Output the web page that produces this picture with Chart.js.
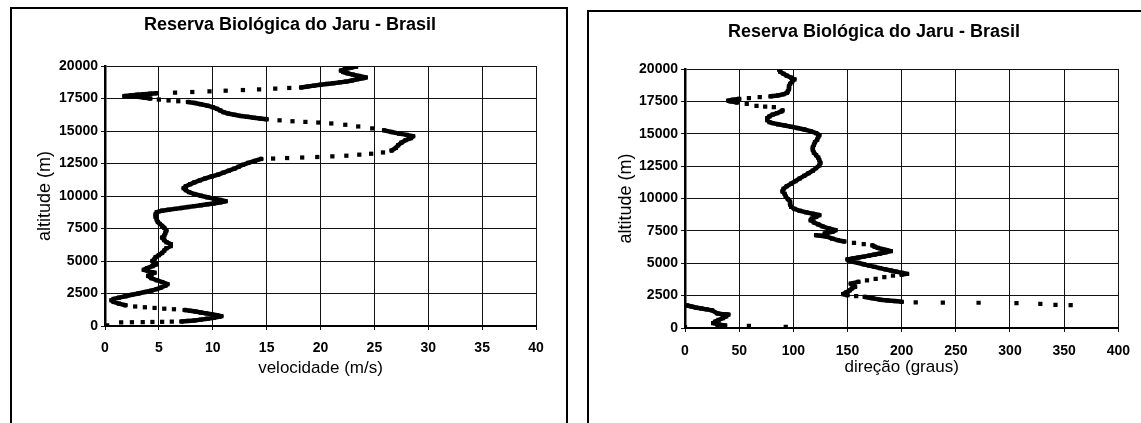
<!DOCTYPE html>
<html><head><meta charset="utf-8">
<script src="https://cdn.jsdelivr.net/npm/chart.js@4.4.1/dist/chart.umd.min.js"></script>
<style>
html,body{margin:0;padding:0;background:#fff;width:1141px;height:423px;overflow:hidden;}
.frame{position:absolute;border:2px solid #000;box-sizing:border-box;}
canvas{position:absolute;}
</style></head><body>
<div class="frame" style="left:10px;top:7px;width:558px;height:480px"></div>
<div class="frame" style="left:587px;top:10px;width:600px;height:480px"></div>
<canvas id="cL" width="554" height="414" style="left:12px;top:9px"></canvas>
<canvas id="cR" width="552" height="411" style="left:589px;top:12px"></canvas>
<script>
const chartTitle = 'Reserva Biológica do Jaru - Brasil';
const yTitle = 'altitude (m)';
const speedTitle = 'velocidade (m/s)';
const dirTitle = 'direção (graus)';
const altitudeTicks = [0, 2500, 5000, 7500, 10000, 12500, 15000, 17500, 20000];
const speedTicks = [0, 5, 10, 15, 20, 25, 30, 35, 40];
const directionTicks = [0, 50, 100, 150, 200, 250, 300, 350, 400];

// Wind speed profile (m/s) and altitude (m)
const speedAlt = [50,280,290,300,310,320,335,350,390,430,490,560,630,700,760,830,900,970,1040,1110,1170,1230,1290,1330,1390,1440,1500,1600,1720,1850,1980,2080,2180,2290,2400,2500,2610,2720,2840,2960,3100,3220,3380,3520,3680,3850,3980,4100,4220,4320,4450,4600,4750,4880,5000,5150,5300,5450,5620,5800,5980,6150,6300,6450,6600,6800,6950,7150,7350,7550,7700,7850,8000,8200,8400,8600,8750,8870,8940,9010,9080,9150,9220,9290,9360,9430,9510,9600,9700,9800,9900,10020,10150,10300,10450,10600,10750,10900,11050,11200,11350,11500,11650,11800,11950,12100,12250,12400,12550,12700,12850,12880,12920,12960,13000,13050,13100,13180,13250,13350,13500,13700,13900,14100,14300,14450,14600,14700,14800,14920,15050,15200,15350,15480,15580,15650,15700,15750,15820,15900,15960,16020,16090,16160,16250,16350,16450,16580,16700,16830,16950,17060,17160,17230,17290,17350,17420,17500,17570,17630,17670,17690,17740,17790,17830,17870,17910,17950,18000,18050,18100,18150,18200,18260,18310,18350,18420,18490,18560,18620,18680,18740,18800,18880,18980,19060,19120,19230,19340,19440,19540,19650,19770,19870,19950];
const speedVal = [0.2,1.5,2.5,3.5,4.4,5.3,6.2,7.1,7.7,8.3,8.9,9.5,10.1,10.6,10.8,10.4,9.9,9.4,8.9,8.4,7.9,7.4,6.4,5.5,4.6,3.7,2.8,1.9,1.3,0.8,0.6,0.8,1.3,1.9,2.5,3.1,3.7,4.3,4.8,5.2,5.6,5.8,5.3,4.8,4.3,4.0,4.3,4.6,4.0,3.6,3.9,4.4,4.8,4.5,4.4,4.6,4.7,5.0,5.3,5.5,5.7,6.1,6.1,5.7,5.5,5.3,5.5,5.6,5.7,5.5,5.3,5.1,4.9,4.8,4.7,4.7,4.8,5.3,5.9,6.5,7.1,7.7,8.3,8.9,9.5,10.1,10.7,11.2,10.7,10.1,9.5,8.9,8.3,7.8,7.5,7.3,7.5,7.9,8.3,8.8,9.3,9.9,10.5,11.0,11.5,12.0,12.4,12.8,13.3,13.9,14.5,15.6,16.9,18.3,19.7,21.1,22.4,23.6,24.7,25.8,26.6,27.0,27.2,27.5,27.9,28.4,28.6,28.0,27.3,26.6,25.9,24.8,23.5,22.3,21.0,19.8,18.6,17.4,16.2,15.0,14.4,13.8,13.2,12.6,12.0,11.4,11.0,10.7,10.4,10.0,9.5,8.9,8.3,7.7,6.8,5.9,5.0,4.2,3.6,3.0,2.4,1.8,2.4,3.0,3.6,4.2,4.8,6.5,8.1,9.7,11.2,12.8,14.3,15.8,17.1,18.2,18.8,19.4,20.0,20.6,21.2,21.8,22.4,22.9,23.4,23.9,24.2,23.6,23.0,22.5,22.1,21.9,22.3,22.8,23.3];

// Wind direction profile (degrees) and altitude (m)
const dirAlt = [40,90,120,170,200,280,380,500,620,760,900,1040,1080,1120,1360,1440,1510,1580,1660,1740,1760,1780,1860,1920,1950,1960,1970,2020,2080,2130,2190,2300,2400,2470,2530,2620,2760,2900,3050,3180,3300,3430,3560,3680,3800,3930,4040,4120,4180,4260,4350,4440,4530,4620,4720,4820,4920,5020,5120,5220,5300,5370,5440,5510,5590,5670,5750,5840,5940,6020,6100,6180,6280,6380,6480,6570,6680,6780,6900,7050,7130,7170,7300,7420,7550,7680,7850,8000,8150,8320,8450,8580,8720,8820,8930,9050,9200,9350,9550,9750,9950,10150,10350,10550,10750,10950,11150,11350,11550,11750,11950,12150,12350,12550,12750,12950,13150,13350,13550,13750,13950,14150,14350,14550,14750,14900,15050,15200,15330,15440,15540,15640,15730,15820,15900,16050,16200,16350,16480,16600,16720,16800,17050,17100,17160,17300,17420,17500,17560,17620,17690,17760,17830,17890,17960,18050,18150,18280,18450,18650,18850,19050,19200,19330,19480,19630,19780,19950];
const dirVal = [0,93,30,59,37,31,26,28,31,35,38,40,34,30,25,20,15,10,6,2,356,342,328,306,271,238,213,200,194,187,180,173,166,158,150,146,149,152,154,157,155,153,160,168,176,184,192,200,205,200,195,190,185,180,175,170,165,160,155,151,150,155,160,165,170,175,180,185,190,186,182,178,175,173,165,156,147,141,136,131,125,121,129,136,139,133,127,123,119,116,117,121,124,118,112,106,101,98,97,97,95,93,92,90,91,94,98,102,106,110,114,118,121,124,125,124,123,121,119,118,118,119,120,122,123,124,121,116,110,104,98,92,86,81,78,76,76,78,81,85,89,90,82,74,66,57,48,42,40,44,50,59,69,79,86,91,94,95,96,96,97,99,101,98,94,91,88,87];

Chart.defaults.color = '#000';
Chart.defaults.font.family = "'Liberation Sans', Arial, sans-serif";

const titlePlugin = {
  id: 'boxTitle',
  afterDraw(chart, args, opts) {
    const ctx = chart.ctx;
    ctx.save();
    ctx.font = 'bold 18px "Liberation Sans", Arial, sans-serif';
    ctx.fillStyle = '#000';
    ctx.textAlign = 'center';
    ctx.textBaseline = 'middle';
    ctx.fillText(opts.text, opts.x, opts.y);
    ctx.restore();
  }
};

function makeChart(id, xs, ys, xTicks, xMax, xTitleText, cfg) {
  const pts = xs.map((v, i) => ({x: v, y: ys[i]}));
  return new Chart(document.getElementById(id), {
    type: 'scatter',
    data: { datasets: [{
      data: pts,
      showLine: true,
      borderColor: '#000',
      borderWidth: 4.5,
      borderJoinStyle: 'round',
      borderCapStyle: 'round',
      backgroundColor: '#000',
      pointStyle: 'rect',
      pointRadius: 3,
      pointBorderWidth: 0,
      segment: {
        borderColor: c => Math.hypot(c.p1.x - c.p0.x, c.p1.y - c.p0.y) > 8 ? 'rgba(0,0,0,0)' : '#000'
      }
    }]},
    options: {
      responsive: false,
      devicePixelRatio: 1,
      animation: false,
      layout: { padding: cfg.padding },
      plugins: {
        legend: { display: false },
        tooltip: { enabled: false },
        title: { display: false },
        boxTitle: { text: chartTitle, x: cfg.titleX, y: cfg.titleY }
      },
      scales: {
        x: {
          type: 'linear', min: 0, max: xMax,
          afterBuildTicks: s => { s.ticks = xTicks.map(v => ({value: v})); },
          afterFit: s => { s.height = cfg.xH; },
          ticks: { font: { size: 14, weight: 'bold' }, padding: cfg.xPad, maxRotation: 0, autoSkip: false, callback: v => String(v) },
          grid: { color: '#111', lineWidth: 1, tickLength: 4, drawTicks: true },
          border: { display: true, color: '#000', width: 2 },
          title: { display: true, text: xTitleText, font: { size: 17 }, padding: 0 }
        },
        y: {
          type: 'linear', min: 0, max: 20000,
          afterBuildTicks: s => { s.ticks = altitudeTicks.map(v => ({value: v})); },
          afterFit: s => { s.width = cfg.yW; },
          ticks: { font: { size: 14, weight: 'bold' }, padding: 3, autoSkip: false, callback: v => String(v) },
          grid: { color: '#111', lineWidth: 1, tickLength: 4, drawTicks: true },
          border: { display: true, color: '#000', width: 2.5 },
          title: { display: true, text: yTitle, font: { size: 18 }, padding: 0 }
        }
      }
    },
    plugins: [titlePlugin]
  });
}

makeChart('cL', speedVal, speedAlt, speedTicks, 40, speedTitle, {
  padding: { left: 22, right: 30, top: 57, bottom: 44 },
  xH: 53, yW: 71, xPad: 10, titleX: 278, titleY: 16
});
makeChart('cR', dirVal, dirAlt, directionTicks, 400, dirTitle, {
  padding: { left: 26, right: 17, top: 57, bottom: 45 },
  xH: 50, yW: 70, xPad: 11, titleX: 285, titleY: 20
});
</script>
</body></html>
